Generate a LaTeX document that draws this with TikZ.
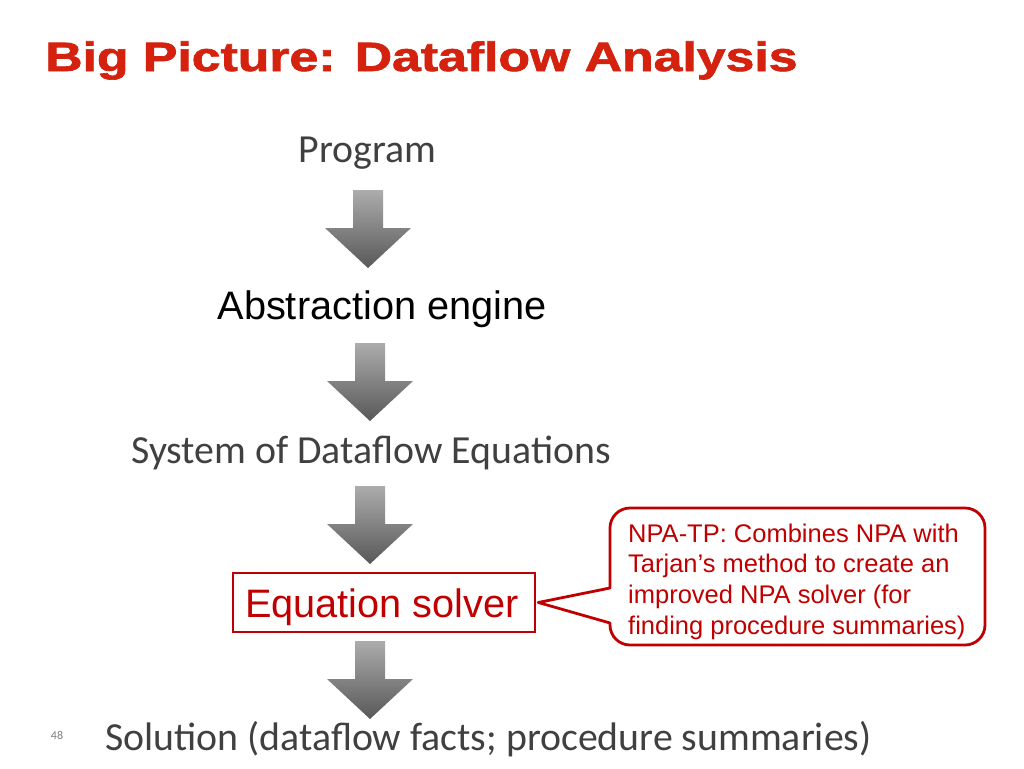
\documentclass[tikz,border=0pt]{standalone}
\usepackage{fontspec}
\setmainfont{Carlito}
\newfontfamily\arialfont{Liberation Sans}
\newfontfamily\titlefont{Liberation Sans Bold}[FakeBold=1.6]
\usetikzlibrary{shadings}
\definecolor{titlered}{RGB}{212,34,14}
\definecolor{boxred}{RGB}{192,0,0}
\definecolor{txtgray}{RGB}{64,64,64}
\definecolor{arrtop}{RGB}{172,172,172}
\definecolor{arrbot}{RGB}{88,88,88}
\tikzset{
  plain/.style={inner sep=0pt, anchor=base, text=txtgray, font=\fontsize{39.8}{44}\selectfont},
  ariallabel/.style={inner sep=0pt, anchor=base, font=\arialfont\fontsize{39.7}{44}\selectfont},
  blockarrow/.style={top color=arrtop, bottom color=arrbot, draw=none},
}
\newcommand{\downarrowblock}[2]{%
  \path[blockarrow] (#1-15,#2) -- (#1+15,#2) -- (#1+15,#2+38) -- (#1+43,#2+38)
     -- (#1,#2+78) -- (#1-43,#2+38) -- (#1-15,#2+38) -- cycle;}
\begin{document}
\begin{tikzpicture}[x=1pt,y=-1pt]
\useasboundingbox[fill=white] (0,0) rectangle (1024,768);
% title
\node[inner sep=0pt, anchor=base west, text=titlered] (title) at (45,71)
  {\scalebox{1.262}[1]{\titlefont\fontsize{41}{46}\selectfont Big Picture: Dataflow Analysis}};
% chain
\node[plain] (prog) at (367.5,162.5) {Program};
\node[ariallabel, text=black] (abs) at (382,319) {Abstraction engine};
\node[plain] (sys) at (371,463) {System of Dataflow Equations};
\node[draw=boxred, line width=2.5pt, minimum width=302pt, minimum height=59pt, inner sep=0pt] (solver) at (384,602.5) {};
\node[ariallabel, text=boxred] (soltxt) at (382,617) {Equation solver};
\node[plain] (sol) at (488.5,750) {Solution (dataflow facts; procedure summaries)};
\node[inner sep=0pt, anchor=base, text=gray, font=\fontsize{12}{14}\selectfont] (pnum) at (57,739) {48};
% block arrows
\downarrowblock{368}{190}
\downarrowblock{370}{343}
\downarrowblock{370}{486}
\downarrowblock{370}{641}
% callout
\node[inner sep=0pt, anchor=north west, align=left, text=boxred,
      font=\arialfont\fontsize{25.5}{30.7}\selectfont] (npa) at (628,523.5)
  {NPA-TP: Combines NPA with\\Tarjan’s method to create an\\improved NPA solver (for\\finding procedure summaries)};
\coordinate (tip) at ([xshift=2pt]solver.east);
\draw[boxred, line width=2.8pt, line join=round]
  (610,588) [rounded corners=20pt] -- (610,508) -- (985,508) -- (985,645) -- (610,645)
  [sharp corners] -- (610,623) -- (tip) -- cycle;
\end{tikzpicture}
\end{document}
